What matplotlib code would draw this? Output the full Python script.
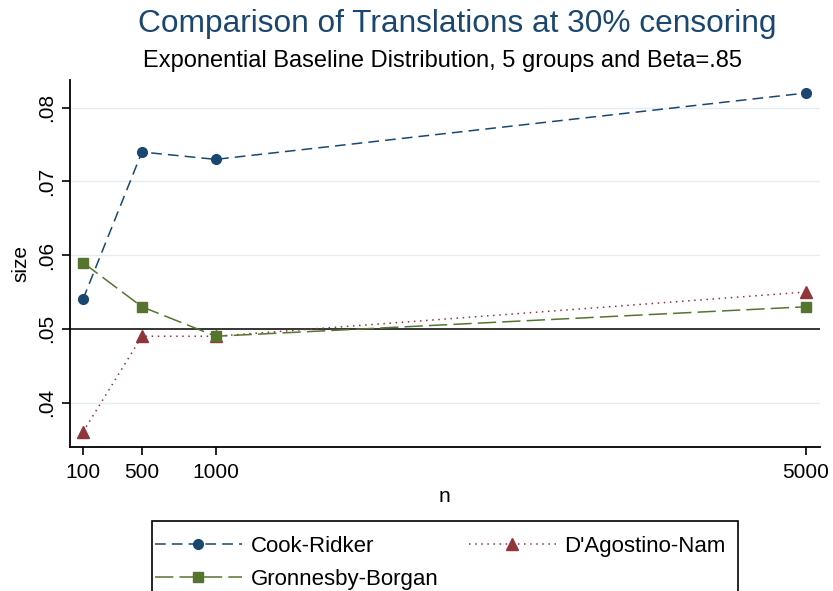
import matplotlib.pyplot as plt
from matplotlib.patches import Rectangle

plt.rcParams["font.family"] = ["Liberation Sans", "DejaVu Sans"]

# Sample sizes and observed test size for each method
n_values = [100, 500, 1000, 5000]
cook_ridker = [0.054, 0.074, 0.073, 0.082]
dagostino_nam = [0.036, 0.049, 0.049, 0.055]
gronnesby_borgan = [0.059, 0.053, 0.049, 0.053]

y_ticks = [0.04, 0.05, 0.06, 0.07, 0.08]
y_labels = [".04", ".05", ".06", ".07", ".08"]

NAVY = "#1a476f"
MAROON = "#90353b"
GREEN = "#55752f"

fig = plt.figure(figsize=(8.33, 5.91), dpi=100)
ax = fig.add_axes([0.084, 0.244, 0.9, 0.621])

# light grid lines like Stata's s2color scheme, plus the nominal 0.05 reference
for y in y_ticks:
    if y != 0.05:
        ax.axhline(y, color="#e3edf2", lw=1.0, zorder=0)
ax.axhline(0.05, color="black", lw=1.1, zorder=1)

ax.plot(n_values, cook_ridker, color=NAVY, ls=(0, (7, 4)), lw=1.1,
        marker="o", ms=7, label="Cook-Ridker")
ax.plot(n_values, dagostino_nam, color=MAROON, ls=(0, (1, 3)), lw=1.1,
        marker="^", ms=8, label="D'Agostino-Nam")
ax.plot(n_values, gronnesby_borgan, color=GREEN, ls=(0, (12, 4)), lw=1.1,
        marker="s", ms=7, label="Gronnesby-Borgan")

ax.set_xlim(12, 5095)
ax.set_ylim(0.034, 0.0838)
ax.set_xticks(n_values)
ax.set_xticklabels([str(v) for v in n_values], fontsize=15)
ax.set_yticks(y_ticks)
ax.set_yticklabels(y_labels, fontsize=15, rotation=90, va="center")
ax.tick_params(direction="out", length=6, width=1.2, pad=6)
ax.tick_params(axis="y", pad=4)
ax.set_xlabel("n", fontsize=15, labelpad=3)
ax.set_ylabel("size", fontsize=15, labelpad=5)

for side in ("top", "right"):
    ax.spines[side].set_visible(False)
ax.spines["left"].set_linewidth(1.3)
ax.spines["bottom"].set_linewidth(1.3)

fig.text(0.549, 0.96, "Comparison of Translations at 30% censoring",
         ha="center", va="center", fontsize=22.8, color=NAVY)
fig.text(0.531, 0.897, "Exponential Baseline Distribution, 5 groups and Beta=.85",
         ha="center", va="center", fontsize=17, color="black")

# legend box runs off the bottom of the image, so draw the frame by hand
fig.patches.append(Rectangle((0.1825, -0.05), 0.7035, 0.1676,
                             transform=fig.transFigure, fill=False,
                             edgecolor="black", lw=1.2))

handles, labels = ax.get_legend_handles_labels()
order = [0, 2, 1]
leg = fig.legend([handles[i] for i in order], [labels[i] for i in order],
                 loc="upper left", bbox_to_anchor=(0.186, -0.2, 0.6855, 0.293),
                 mode="expand", ncol=2, fontsize=16, frameon=False,
                 handlelength=3.9, borderaxespad=0, borderpad=0,
                 labelspacing=0.55, columnspacing=2, handletextpad=0.4)

fig.savefig("out.png", dpi=100)
